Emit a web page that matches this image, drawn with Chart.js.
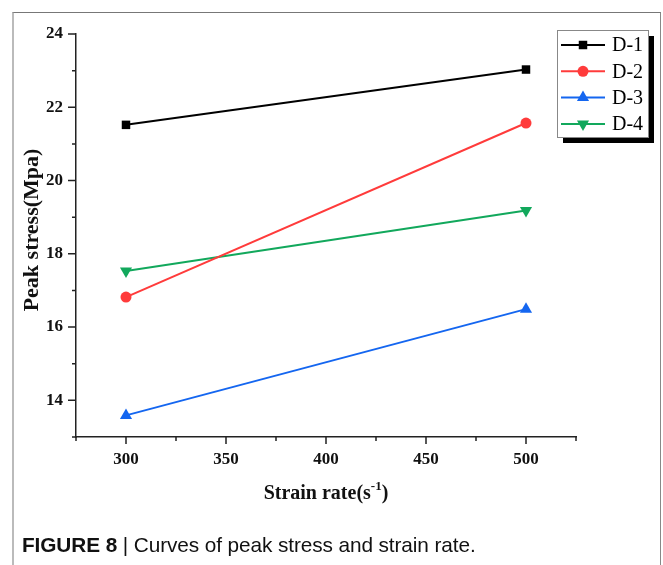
<!DOCTYPE html>
<html>
<head>
<meta charset="utf-8">
<script src="https://cdn.jsdelivr.net/npm/chart.js@4/dist/chart.umd.min.js"></script>
<style>
  html, body { margin: 0; padding: 0; background: #fff; }
  #wrap { position: relative; width: 663px; height: 565px; overflow: hidden; background: #fff; }
  #frame { position: absolute; left: 12px; top: 12px; width: 646px; height: 600px;
           border-top: 1px solid #777; border-right: 1px solid #888; border-left: 2px solid #bbb; }
  canvas { position: absolute; left: 0; top: 0; }
  #caption { position: absolute; left: 22px; top: 533px; font-family: "Liberation Sans", Arial, sans-serif;
             font-size: 20.8px; color: #111; white-space: nowrap; letter-spacing: -0.1px; }
  #caption b { font-weight: bold; }
</style>
</head>
<body>
<div id="wrap">
  <div id="frame"></div>
  <canvas id="c" width="663" height="565"></canvas>
  <div id="caption"><b>FIGURE 8</b> | Curves of peak stress and strain rate.</div>
</div>
<script>
// Strain rates (s^-1) and peak stress (MPa) for each specimen group
const strainRates = [300, 500];
const seriesNames = ['D-1', 'D-2', 'D-3', 'D-4'];
const peakD1 = [21.52, 23.03];
const peakD2 = [16.82, 21.57];
const peakD3 = [13.59, 16.49];
const peakD4 = [17.53, 19.18];
const xTickLabels = [300, 350, 400, 450, 500];
const yTickLabels = [14, 16, 18, 20, 22, 24];

const colors = ['#000000', '#ff3b3b', '#1466f0', '#12a85c'];
const pointStyles = ['rect', 'circle', 'triangle', 'triangle'];
const pointRot = [0, 0, 0, 180];
const pointRad = [6, 5.5, 7, 7];
const values = [peakD1, peakD2, peakD3, peakD4];

const datasets = seriesNames.map((name, i) => ({
  label: name,
  data: strainRates.map((x, k) => ({ x: x, y: values[i][k] })),
  borderColor: colors[i],
  backgroundColor: colors[i],
  borderWidth: 2,
  pointStyle: pointStyles[i],
  rotation: pointRot[i],
  pointRadius: pointRad[i],
  pointBorderWidth: 0,
  pointHoverRadius: pointRad[i],
  tension: 0
}));

const axisColor = '#222';
const serif = '"Liberation Serif", "Times New Roman", serif';
const tickFont = { family: serif, size: 17, weight: 'bold' };

// Tick marks (major + minor) and axis titles drawn on the canvas
const axisDecor = {
  id: 'axisDecor',
  afterDraw(chart) {
    const ctx = chart.ctx;
    const xs = chart.scales.x, ys = chart.scales.y;
    const area = chart.chartArea;
    ctx.save();
    ctx.strokeStyle = axisColor;
    ctx.lineWidth = 1.5;
    ctx.beginPath();
    xs.ticks.forEach(t => {
      const px = xs.getPixelForValue(t.value);
      const major = xTickLabels.includes(t.value);
      ctx.moveTo(px, area.bottom);
      ctx.lineTo(px, area.bottom + (major ? 7 : 4));
    });
    ys.ticks.forEach(t => {
      const py = ys.getPixelForValue(t.value);
      const major = yTickLabels.includes(t.value);
      ctx.moveTo(area.left, py);
      ctx.lineTo(area.left - (major ? 8 : 4), py);
    });
    ctx.stroke();

    ctx.fillStyle = '#111';
    // y title
    ctx.save();
    ctx.translate(32, 230);
    ctx.rotate(-Math.PI / 2);
    ctx.font = 'bold 22px ' + serif;
    ctx.textAlign = 'center';
    ctx.textBaseline = 'middle';
    ctx.fillText('Peak stress(Mpa)', 0, 0);
    ctx.restore();

    // x title with superscript
    const main = 'Strain rate(s', sup = '-1', close = ')';
    const fMain = 'bold 20px ' + serif;
    const fSup = 'bold 13px ' + serif;
    ctx.font = fMain; const w1 = ctx.measureText(main).width, w3 = ctx.measureText(close).width;
    ctx.font = fSup; const w2 = ctx.measureText(sup).width;
    const total = w1 + w2 + w3;
    const x0 = (area.left + area.right) / 2 - total / 2;
    const base = 499;
    ctx.textAlign = 'left';
    ctx.textBaseline = 'alphabetic';
    ctx.font = fMain; ctx.fillText(main, x0, base);
    ctx.font = fSup; ctx.fillText(sup, x0 + w1, base - 9);
    ctx.font = fMain; ctx.fillText(close, x0 + w1 + w2, base);
    ctx.restore();
  }
};

// Boxed legend with drop shadow, line-and-marker samples
const boxLegend = {
  id: 'boxLegend',
  afterDraw(chart) {
    const ctx = chart.ctx;
    const bx = 557, by = 30, bw = 91, bh = 107;
    ctx.save();
    ctx.fillStyle = '#000';
    ctx.fillRect(bx + 6, by + 6, bw, bh);
    ctx.fillStyle = '#fff';
    ctx.fillRect(bx, by, bw, bh);
    ctx.strokeStyle = '#888';
    ctx.lineWidth = 1;
    ctx.strokeRect(bx + 0.5, by + 0.5, bw, bh);
    chart.data.datasets.forEach((ds, i) => {
      const y = by + 15 + i * 26.3;
      ctx.strokeStyle = ds.borderColor;
      ctx.lineWidth = 2;
      ctx.beginPath();
      ctx.moveTo(bx + 4, y);
      ctx.lineTo(bx + 48, y);
      ctx.stroke();
      ctx.fillStyle = ds.backgroundColor;
      Chart.helpers.drawPoint(ctx, {
        pointStyle: ds.pointStyle, rotation: ds.rotation, radius: ds.pointRadius, borderWidth: 0
      }, bx + 26, y);
      ctx.fillStyle = '#000';
      ctx.font = '20px ' + serif;
      ctx.textAlign = 'left';
      ctx.textBaseline = 'middle';
      ctx.fillText(ds.label, bx + 55, y + 1);
    });
    ctx.restore();
  }
};

new Chart(document.getElementById('c'), {
  type: 'line',
  data: { datasets },
  options: {
    responsive: false,
    animation: false,
    layout: { padding: { left: 0, top: 34, right: 87, bottom: 0 } },
    plugins: { legend: { display: false }, tooltip: { enabled: false } },
    scales: {
      x: {
        type: 'linear', min: 275, max: 525,
        afterFit: s => { s.height = 128; },
        border: { display: true, color: axisColor, width: 1.5 },
        grid: { display: true, drawOnChartArea: false, drawTicks: true, tickLength: 7, color: 'rgba(0,0,0,0)' },
        ticks: { stepSize: 25, padding: 5, color: '#111', font: tickFont, maxRotation: 0, autoSkip: false,
                 callback: v => xTickLabels.includes(v) ? String(v) : '' }
      },
      y: {
        type: 'linear', min: 13, max: 24,
        afterFit: s => { s.width = 76; },
        border: { display: true, color: axisColor, width: 1.5 },
        grid: { display: true, drawOnChartArea: false, drawTicks: true, tickLength: 8, color: 'rgba(0,0,0,0)' },
        ticks: { stepSize: 1, padding: 5, color: '#111', font: tickFont, autoSkip: false,
                 callback: v => yTickLabels.includes(v) ? String(v) : '' }
      }
    }
  },
  plugins: [axisDecor, boxLegend]
});
</script>
</body>
</html>
